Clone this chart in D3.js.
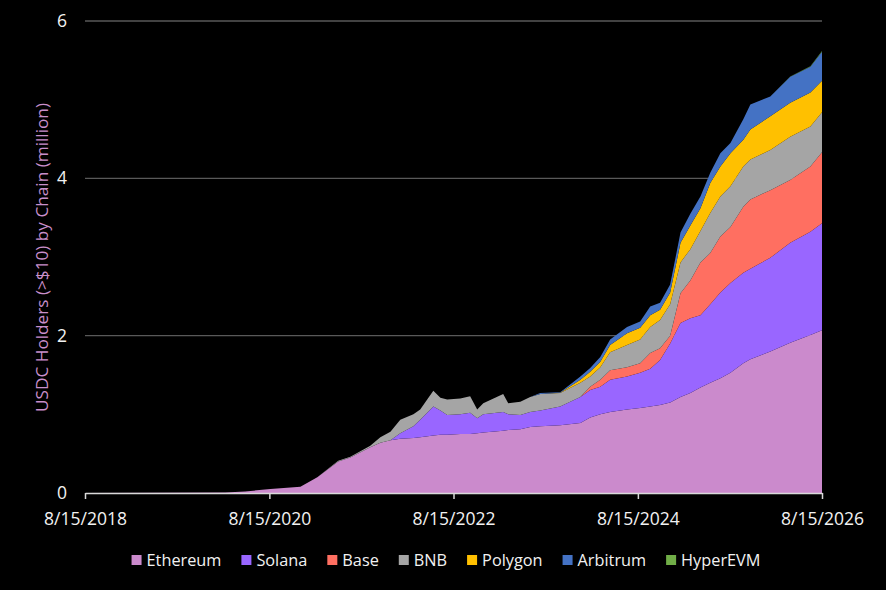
<!DOCTYPE html>
<html>
<head>
<meta charset="utf-8">
<script src="https://cdn.jsdelivr.net/npm/d3@7/dist/d3.min.js"></script>
<style>
  html, body { margin: 0; padding: 0; background: #000; }
  svg { display: block; }
  text { font-family: "Open Sans", "Noto Sans", sans-serif; }
</style>
</head>
<body>
<svg id="chart" width="886" height="590"></svg>
<script>
// ---- Data (values in million holders) ----
const dates = [
  "2018-08-15","2020-02-22","2020-05-11","2020-08-19","2020-12-16","2021-02-21","2021-05-15","2021-07-02",
  "2021-09-19","2021-10-29","2021-12-08","2022-01-16","2022-03-09","2022-04-05","2022-05-27","2022-06-24",
  "2022-07-21","2022-09-11","2022-10-20","2022-11-17","2022-12-11","2023-02-28","2023-03-20","2023-05-07",
  "2023-06-15","2023-07-25","2023-10-12","2023-12-31","2024-02-08","2024-03-19","2024-04-27","2024-07-03",
  "2024-08-24","2024-10-03","2024-11-11","2024-12-21","2025-01-31","2025-03-11","2025-04-20","2025-05-29",
  "2025-07-08","2025-08-17","2025-10-07","2025-11-04","2026-01-22","2026-04-11","2026-06-30","2026-08-15"
];
const ethereum = [
  0,0.005,0.02,0.05,0.08,0.20,0.40,0.45,
  0.58,0.64,0.67,0.69,0.70,0.71,0.73,0.74,
  0.74,0.75,0.75,0.76,0.77,0.79,0.80,0.81,
  0.84,0.85,0.86,0.89,0.96,1.00,1.03,1.06,
  1.08,1.10,1.12,1.15,1.22,1.27,1.34,1.40,
  1.46,1.53,1.65,1.70,1.80,1.91,2.01,2.07
];
const solana = [
  0,0,0,0,0,0,0,0,
  0,0,0,0.07,0.15,0.22,0.37,0.31,
  0.25,0.25,0.27,0.19,0.23,0.24,0.20,0.18,
  0.19,0.20,0.24,0.33,0.35,0.35,0.41,0.42,
  0.45,0.48,0.57,0.75,0.94,0.95,0.92,1.00,
  1.09,1.14,1.15,1.15,1.19,1.27,1.31,1.36
];
const base = [
  0,0,0,0,0,0,0,0,
  0,0,0,0,0,0,0,0,
  0,0,0,0,0,0,0,0,
  0,0,0,0,0.04,0.09,0.12,0.12,
  0.12,0.20,0.15,0.10,0.38,0.48,0.67,0.65,
  0.71,0.71,0.84,0.88,0.86,0.80,0.83,0.90
];
const bnb = [
  0,0,0,0,0,0,0.01,0.01,
  0.02,0.07,0.11,0.17,0.15,0.13,0.20,0.16,
  0.20,0.20,0.21,0.11,0.14,0.23,0.14,0.17,
  0.19,0.21,0.17,0.18,0.13,0.16,0.23,0.28,
  0.30,0.33,0.36,0.40,0.39,0.40,0.40,0.51,
  0.51,0.52,0.51,0.51,0.51,0.55,0.51,0.51
];
const polygon = [
  0,0,0,0,0,0,0,0,
  0,0,0,0,0,0,0,0,
  0,0,0,0,0,0,0,0,
  0,0,0.005,0.04,0.06,0.07,0.09,0.15,
  0.15,0.15,0.13,0.15,0.25,0.30,0.29,0.38,
  0.38,0.42,0.34,0.38,0.43,0.43,0.43,0.40
];
const arbitrum = [
  0,0,0,0,0,0,0,0,
  0,0,0,0,0,0,0,0,
  0,0,0,0,0,0,0,0,
  0,0.01,0.005,0.04,0.05,0.06,0.07,0.08,
  0.08,0.11,0.09,0.10,0.13,0.15,0.15,0.13,
  0.17,0.13,0.26,0.32,0.25,0.33,0.33,0.37
];
const hyperevm = [
  0,0,0,0,0,0,0,0,
  0,0,0,0,0,0,0,0,
  0,0,0,0,0,0,0,0,
  0,0,0,0,0,0,0,0,
  0,0,0,0,0,0,0,0,
  0,0,0,0,0,0.005,0.005,0.01
];
const seriesNames = ["Ethereum","Solana","Base","BNB","Polygon","Arbitrum","HyperEVM"];
const seriesColors = ["#CB8ACC","#9966FF","#FF6F61","#A5A5A5","#FFC000","#4472C4","#70AD47"];
const xTickLabels = ["8/15/2018","8/15/2020","8/15/2022","8/15/2024","8/15/2026"];
const yTicks = [0,2,4,6];
const yTitle = "USDC Holders (>$10) by Chain (million)";

// ---- Build table ----
const parse = d3.timeParse("%Y-%m-%d");
const fmtTick = d3.timeParse("%m/%d/%Y");
const valueArrays = [ethereum, solana, base, bnb, polygon, arbitrum, hyperevm];
const rows = dates.map((d, i) => {
  const r = { date: parse(d) };
  seriesNames.forEach((n, k) => r[n] = valueArrays[k][i]);
  return r;
});

const svg = d3.select("#chart");
svg.append("rect").attr("width", 886).attr("height", 590).attr("fill", "#000");

const m = { left: 85, right: 822, top: 21, bottom: 493 };
const x = d3.scaleTime()
  .domain([fmtTick(xTickLabels[0]), fmtTick(xTickLabels[xTickLabels.length - 1])])
  .range([m.left, m.right]);
const y = d3.scaleLinear().domain([0, 6]).range([m.bottom, m.top]);

// gridlines
svg.append("g")
  .selectAll("line")
  .data(yTicks.filter(t => t > 0))
  .join("line")
  .attr("x1", m.left).attr("x2", m.right)
  .attr("y1", d => y(d)).attr("y2", d => y(d))
  .attr("stroke", "#595959").attr("stroke-width", 1.3);

// stacked areas
const stack = d3.stack().keys(seriesNames);
const layers = stack(rows);
const area = d3.area()
  .x(d => x(d.data.date))
  .y0(d => y(d[0]))
  .y1(d => y(d[1]))
  .curve(d3.curveLinear);
svg.append("g")
  .selectAll("path")
  .data(layers)
  .join("path")
  .attr("d", area)
  .attr("fill", (d, i) => seriesColors[i]);

// x axis
const xAxis = d3.axisBottom(x)
  .tickValues(xTickLabels.map(fmtTick))
  .tickFormat((d, i) => xTickLabels[i])
  .tickSizeInner(6).tickSizeOuter(0).tickPadding(14);
const gx = svg.append("g").attr("transform", `translate(0,${m.bottom})`).call(xAxis);
gx.select(".domain").attr("stroke", "#D9D9D9").attr("stroke-width", 1.5);
gx.selectAll(".tick line").attr("stroke", "#D9D9D9").attr("stroke-width", 1.5);
gx.selectAll(".tick text").attr("fill", "#F2F2F2").attr("font-size", 17.5)
  .attr("font-family", "'Open Sans', sans-serif");

// y axis labels
const yAxis = d3.axisLeft(y).tickValues(yTicks).tickFormat(d3.format("d"))
  .tickSize(0).tickPadding(18);
const gy = svg.append("g").attr("transform", `translate(${m.left},0)`).call(yAxis);
gy.select(".domain").remove();
gy.selectAll(".tick text").attr("fill", "#F2F2F2").attr("font-size", 17.5)
  .attr("font-family", "'Open Sans', sans-serif");

// y title
svg.append("text")
  .attr("transform", `translate(41,${(93 + 422) / 2}) rotate(-90)`)
  .attr("text-anchor", "middle")
  .attr("dominant-baseline", "central")
  .attr("fill", "#C98FCB")
  .attr("font-size", 17.2)
  .text(yTitle);

// legend
const lg = svg.append("g");
const items = [];
seriesNames.forEach((n, i) => {
  const g = lg.append("g");
  g.append("rect").attr("x", 0).attr("y", -5).attr("width", 10).attr("height", 10).attr("fill", seriesColors[i]);
  const t = g.append("text").attr("x", 15).attr("y", 0).attr("dominant-baseline", "central")
    .attr("fill", "#F2F2F2").attr("font-size", 16.3).text(n);
  const w = 15 + t.node().getComputedTextLength();
  items.push({ g, w });
});
const gap = 20;
const total = d3.sum(items, d => d.w) + gap * (items.length - 1);
let start = 446 - total / 2;
items.forEach(it => {
  it.g.attr("transform", `translate(${start},560)`);
  start += it.w + gap;
});
</script>
</body>
</html>
